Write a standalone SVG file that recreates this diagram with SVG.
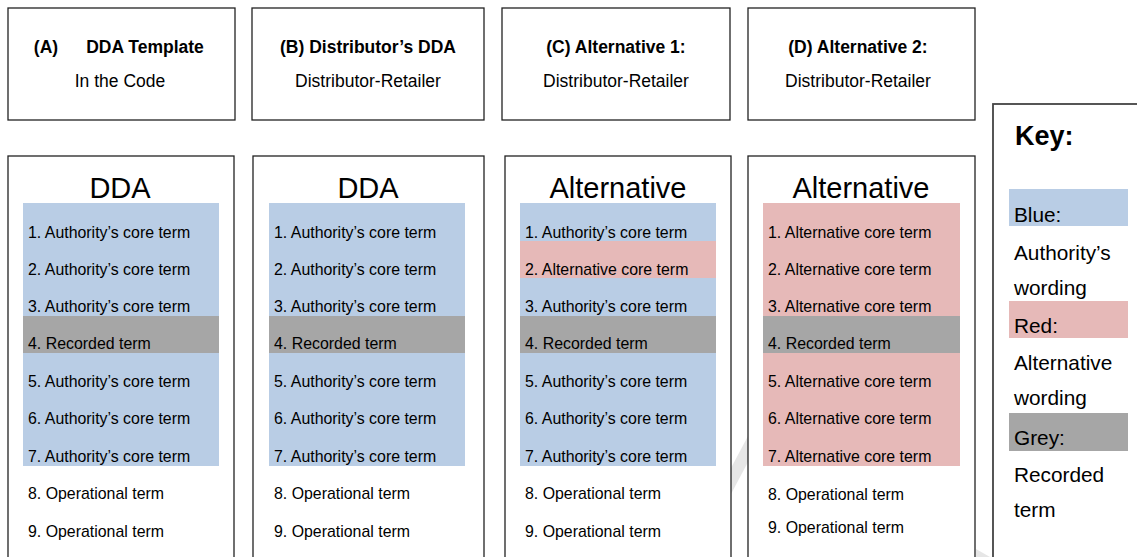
<svg xmlns="http://www.w3.org/2000/svg" width="1137" height="557" viewBox="0 0 1137 557">
  <defs>
    <style>
      .box { fill: #ffffff; stroke: #222222; stroke-width: 1.3; }
      .keybox { fill: #ffffff; stroke: #444444; stroke-width: 1.8; }
      .blue { fill: #b9cde5; }
      .red { fill: #e6b9b8; }
      .grey { fill: #a6a6a6; }
      .wm { fill: #e6e6e6; }
      text { font-family: "Liberation Sans", Arial, sans-serif; fill: #000000; }
      .hb { font-size: 17.5px; font-weight: bold; text-anchor: middle; }
      .hr { font-size: 17.5px; text-anchor: middle; }
      .title { font-size: 29px; text-anchor: middle; }
      .row { font-size: 15.9px; }
      .key { font-size: 20.8px; }
      .keyt { font-size: 27px; font-weight: bold; }
    </style>
  </defs>
  <rect width="1137" height="557" fill="#ffffff"/>
  <g id="watermark">
    <polygon class="wm" points="748,436 748,462 731,494 731,468"/>
    <polygon class="wm" points="976,549 976,557 990,557"/>
  </g>

  <g id="header-a">
    <rect class="box" x="8" y="8" width="227" height="112"/>
    <text class="hb" x="46" y="53">(A)</text>
    <text class="hb" x="145" y="53">DDA Template</text>
    <text class="hr" x="120" y="87">In the Code</text>
  </g>
  <g id="header-b">
    <rect class="box" x="252" y="8" width="232" height="112"/>
    <text class="hb" x="368" y="53">(B) Distributor’s DDA</text>
    <text class="hr" x="368" y="87">Distributor-Retailer</text>
  </g>
  <g id="header-c">
    <rect class="box" x="502" y="8" width="228" height="112"/>
    <text class="hb" x="616" y="53">(C) Alternative 1:</text>
    <text class="hr" x="616" y="87">Distributor-Retailer</text>
  </g>
  <g id="header-d">
    <rect class="box" x="748" y="8" width="227" height="112"/>
    <text class="hb" x="858" y="53">(D) Alternative 2:</text>
    <text class="hr" x="858" y="87">Distributor-Retailer</text>
  </g>

  <g id="panel-a">
    <rect class="box" x="8" y="156" width="226" height="420"/>
    <text class="title" x="120" y="198">DDA</text>
    <rect class="blue" x="23" y="203" width="196" height="263"/>
    <rect class="grey" x="23" y="316" width="196" height="37"/>
    <text class="row" x="28" y="238">1. Authority’s core term</text>
    <text class="row" x="28" y="275">2. Authority’s core term</text>
    <text class="row" x="28" y="312">3. Authority’s core term</text>
    <text class="row" x="28" y="349">4. Recorded term</text>
    <text class="row" x="28" y="387">5. Authority’s core term</text>
    <text class="row" x="28" y="424">6. Authority’s core term</text>
    <text class="row" x="28" y="462">7. Authority’s core term</text>
    <text class="row" x="28" y="499">8. Operational term</text>
    <text class="row" x="28" y="537">9. Operational term</text>
  </g>

  <g id="panel-b">
    <rect class="box" x="253" y="156" width="231" height="420"/>
    <text class="title" x="368" y="198">DDA</text>
    <rect class="blue" x="269" y="203" width="196" height="263"/>
    <rect class="grey" x="269" y="316" width="196" height="37"/>
    <text class="row" x="274" y="238">1. Authority’s core term</text>
    <text class="row" x="274" y="275">2. Authority’s core term</text>
    <text class="row" x="274" y="312">3. Authority’s core term</text>
    <text class="row" x="274" y="349">4. Recorded term</text>
    <text class="row" x="274" y="387">5. Authority’s core term</text>
    <text class="row" x="274" y="424">6. Authority’s core term</text>
    <text class="row" x="274" y="462">7. Authority’s core term</text>
    <text class="row" x="274" y="499">8. Operational term</text>
    <text class="row" x="274" y="537">9. Operational term</text>
  </g>

  <g id="panel-c">
    <rect class="box" x="505" y="156" width="226" height="420"/>
    <text class="title" x="618" y="198">Alternative</text>
    <rect class="blue" x="520" y="203" width="196" height="263"/>
    <rect class="red" x="520" y="241" width="196" height="37"/>
    <rect class="grey" x="520" y="316" width="196" height="37"/>
    <text class="row" x="525" y="238">1. Authority’s core term</text>
    <text class="row" x="525" y="275">2. Alternative core term</text>
    <text class="row" x="525" y="312">3. Authority’s core term</text>
    <text class="row" x="525" y="349">4. Recorded term</text>
    <text class="row" x="525" y="387">5. Authority’s core term</text>
    <text class="row" x="525" y="424">6. Authority’s core term</text>
    <text class="row" x="525" y="462">7. Authority’s core term</text>
    <text class="row" x="525" y="499">8. Operational term</text>
    <text class="row" x="525" y="537">9. Operational term</text>
  </g>

  <g id="panel-d">
    <rect class="box" x="748" y="156" width="227" height="420"/>
    <text class="title" x="861" y="198">Alternative</text>
    <rect class="red" x="763" y="203" width="197" height="263"/>
    <rect class="grey" x="763" y="316" width="197" height="37"/>
    <text class="row" x="768" y="238">1. Alternative core term</text>
    <text class="row" x="768" y="275">2. Alternative core term</text>
    <text class="row" x="768" y="312">3. Alternative core term</text>
    <text class="row" x="768" y="349">4. Recorded term</text>
    <text class="row" x="768" y="387">5. Alternative core term</text>
    <text class="row" x="768" y="424">6. Alternative core term</text>
    <text class="row" x="768" y="462">7. Alternative core term</text>
    <text class="row" x="768" y="500">8. Operational term</text>
    <text class="row" x="768" y="533">9. Operational term</text>
  </g>

  <g id="key">
    <rect class="keybox" x="993" y="104" width="170" height="470"/>
    <text class="keyt" x="1015" y="145">Key:</text>
    <rect class="blue" x="1009" y="189" width="119" height="37"/>
    <rect class="red" x="1009" y="301" width="119" height="37"/>
    <rect class="grey" x="1009" y="413" width="119" height="38"/>
    <text class="key" x="1014" y="222">Blue:</text>
    <text class="key" x="1014" y="260">Authority’s</text>
    <text class="key" x="1014" y="295">wording</text>
    <text class="key" x="1014" y="333">Red:</text>
    <text class="key" x="1014" y="370">Alternative</text>
    <text class="key" x="1014" y="405">wording</text>
    <text class="key" x="1014" y="445">Grey:</text>
    <text class="key" x="1014" y="482">Recorded</text>
    <text class="key" x="1014" y="517">term</text>
  </g>

  <g id="connectors"></g>
</svg>
